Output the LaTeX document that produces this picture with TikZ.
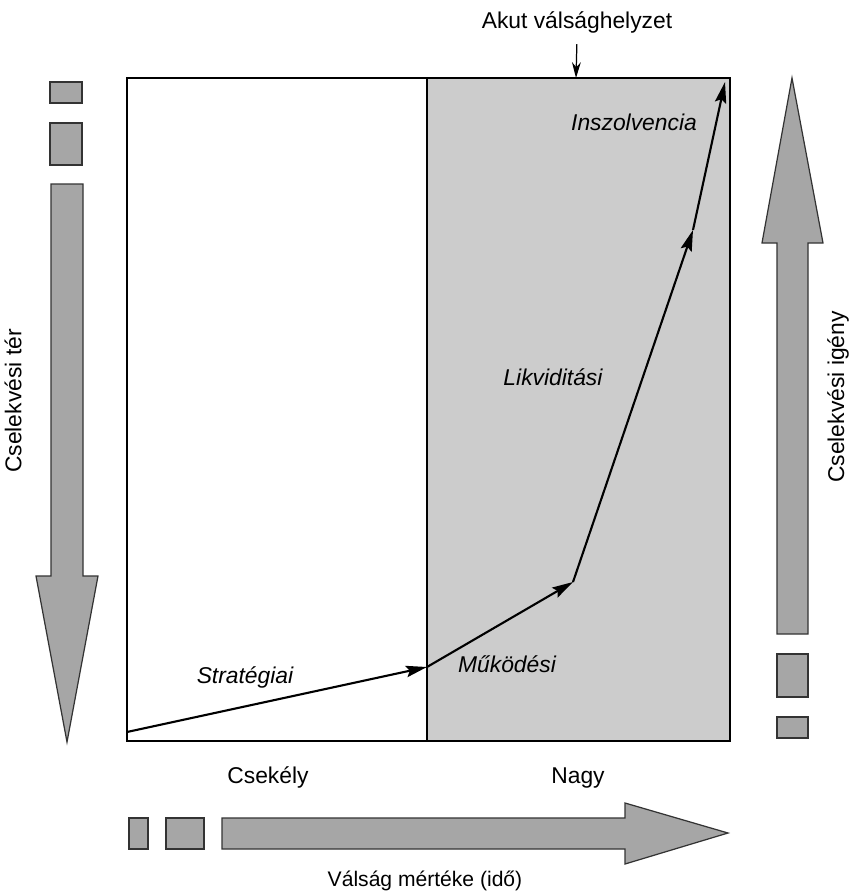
\documentclass[tikz,border=0pt]{standalone}
\usepackage{fontspec}
\setmainfont{Liberation Sans}
\usetikzlibrary{arrows.meta}

\begin{document}
\begin{tikzpicture}
[x=0.02cm, y=-0.02cm,
 label/.style={font=\fontsize{13}{15}\selectfont},
 phase/.style={font=\fontsize{13}{15}\selectfont\itshape, anchor=base},
 blockarrow/.style={draw=black!80, fill=gray!70, line width=0.7pt},
 trend/.style={-{Stealth[length=12pt, width=6.5pt, inset=2pt]}, line width=1.2pt}]

\useasboundingbox (0,0) rectangle (849,893);

%Frame
\fill[gray!40] (427,78) rectangle (730,741);
\draw[line width=0.6pt] (127,78) rectangle (730,741);
\draw[line width=0.6pt] (427,78) -- (427,741);

%Curve points
\coordinate (start) at (127,732);
\coordinate (strat) at (427,667);
\coordinate (mukod) at (573,582);
\coordinate (likvid) at (693,230);
\coordinate (inszolv) at (725,82);

%Curve
\draw[trend] (start) -- (strat);
\draw[trend] (strat) -- (mukod);
\draw[trend] (mukod) -- (likvid);
\draw[trend] (likvid) -- (inszolv);

%Phase labels
\node[phase] (strategiai) at (245,683) {Stratégiai};
\node[phase] (mukodesi) at (507,672) {Működési};
\node[phase] (likviditasi) at (553,385) {Likviditási};
\node[phase] (inszolvencia) at (634,130) {Inszolvencia};

%Acute crisis marker
\node[label, anchor=base] (akut) at (577,28) {Akut válsághelyzet};
\coordinate (akutend) at (576,78);
\draw[-{Stealth[length=9pt, width=5pt]}, line width=0.7pt, shorten <=3pt] (akut.south) -- (akutend);

%Axis labels
\node[label, anchor=base] (csekely) at (268,783) {Csekély};
\node[label, anchor=base] (nagy) at (578,783) {Nagy};
\node[label, anchor=base, font=\fontsize{12}{14}\selectfont] (mertek) at (425,886) {Válság mértéke (idő)};
\node[label, rotate=90] (ter) at (13,401) {Cselekvési tér};
\node[label, rotate=90] (igeny) at (838,397) {Cselekvési igény};

%Block arrows
% left, pointing down
\draw[blockarrow] (50,82) rectangle (82,103);
\draw[blockarrow] (50,123) rectangle (82,165);
\draw[blockarrow] (51,184) -- (83,184) -- (83,576) -- (98,576) -- (67,742)
  -- (36,576) -- (51,576) -- cycle;
% right, pointing up
\draw[blockarrow] (777,654) rectangle (808,697);
\draw[blockarrow] (777,717) rectangle (808,738);
\draw[blockarrow] (777,634) -- (808,634) -- (808,243) -- (823,243) -- (792,78)
  -- (762,243) -- (777,243) -- cycle;
% bottom, pointing right
\draw[blockarrow] (129,818) rectangle (148,849);
\draw[blockarrow] (166,818) rectangle (204,849);
\draw[blockarrow] (222,818) -- (625,818) -- (625,803) -- (728,833) -- (625,864)
  -- (625,849) -- (222,849) -- cycle;

\end{tikzpicture}
\end{document}
